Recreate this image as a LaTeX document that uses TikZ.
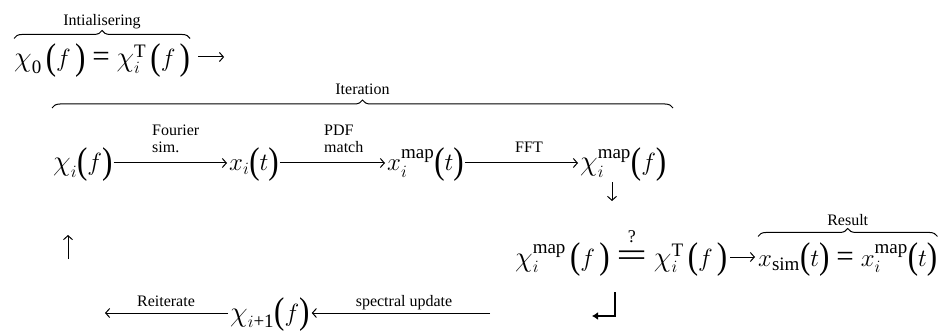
\documentclass[tikz,border=0pt]{standalone}
\usepackage{fontspec}
\setmainfont{Liberation Serif}
\usepackage{amsmath}
\usetikzlibrary{arrows.meta,decorations.pathreplacing}
\DeclareMathSizes{31}{31}{19}{14}
\newcommand\tx[1]{\text{#1}}
\newcommand\X{\mathord{\text{\scalebox{1.15}{$\chi$}}}}
\newcommand\Lp{\text{\raisebox{-0.08em}{\scalebox{1}[1.2]{(}}}}
\newcommand\Rp{\text{\raisebox{-0.08em}{\scalebox{1}[1.2]{)}}}}
\newcommand\EQ{\mathrel{\text{=}}}
\newcommand\QEQ{\;\overset{\raisebox{3pt}{\fontsize{18}{18}\selectfont ?}}{\text{\scalebox{1.75}[1.1]{=}}}\;}
\begin{document}
\begin{tikzpicture}[x=1pt,y=-1pt,
  eq/.style={inner sep=0pt, anchor=base west, font=\fontsize{31}{34}\selectfont},
  lbl/.style={inner sep=0pt, font=\fontsize{16}{17}\selectfont},
  arr/.style={line width=1pt, -{Straight Barb[length=4pt,width=9pt]}},
  brace/.style={decorate, decoration={brace, amplitude=8pt}, line width=1pt},
  bentarr/.style={line width=2.2pt, -{Latex[length=6pt,width=8pt]}}]
\useasboundingbox (0,0) rectangle (949,331);
% row 1
\node[eq] (init) at (14,67) {$\X_{\tx{0}}\,\Lp f\,\Rp\EQ\X_{i}^{\tx{T}}\,\Lp f\,\Rp$};
\draw[arr] ([shift={(8,-10)}]init.base east) -- ++(26,0) coordinate (initend);
\draw[brace] ([yshift=5pt]init.north west) -- ([yshift=5pt]init.north east)
  node[lbl, midway, above=9pt] (tinit) {Intialisering};
% row 2
\node[eq] (chi) at (53,171) {$\X_{i}\Lp f\Rp$};
\node[eq] (xi) at (229,171) {$x_{i}\Lp t\Rp$};
\node[eq] (xmap) at (387,171) {$x_{i}^{\tx{map}}\Lp t\Rp$};
\node[eq] (chimap) at (580,171) {$\X_{i}^{\tx{map}}\Lp f\Rp$};
\draw[arr] ([shift={(1,-8)}]chi.base east) -- ([shift={(-2,-8)}]xi.base west);
\draw[arr] ([shift={(1,-8)}]xi.base east) -- ([shift={(-2,-8)}]xmap.base west);
\draw[arr] ([shift={(1,-8)}]xmap.base east) -- ([shift={(-2,-8)}]chimap.base west);
\node[lbl, anchor=south west, align=left] (lfs) at (152,153) {Fourier\\sim.};
\node[lbl, anchor=south west, align=left] (lpdf) at (324,153) {PDF\\match};
\node[lbl, anchor=south west] (lfft) at (515,153) {FFT};
\draw[brace] (52,108) -- (673,108) node[lbl, midway, above=13pt] (titer) {Iteration};
\coordinate (down1) at (612,182);
\draw[arr] (down1) -- ++(0,19);
% row 3
\node[eq] (cmp) at (515,266) {$\X_{i}^{\tx{map}}\,\Lp f\,\Rp\QEQ\X_{i}^{\tx{T}}\,\Lp f\,\Rp$};
\node[eq] (res) at (758,266) {$x_{\tx{sim}}\Lp t\Rp\EQ x_{i}^{\tx{map}}\Lp t\Rp$};
\draw[arr] ([shift={(3,-9)}]cmp.base east) -- ([shift={(-3,-9)}]res.base west);
\draw[brace] ([yshift=6pt]res.north west) -- ([yshift=6pt]res.north east)
  node[lbl, midway, above=10pt] (tres) {Result};
\coordinate (up1) at (68,259);
\draw[arr] (up1) -- ++(0,-24);
% row 4
\node[eq] (chinext) at (230,321) {$\X_{i\tx{+1}}\Lp f\Rp$};
\coordinate (reit) at (105,313);
\coordinate (spec) at (490,313);
\draw[arr] (chinext.west |- reit) ++(-2,0) -- (reit);
\draw[arr] (spec) -- ([xshift=2pt]chinext.east |- spec);
\node[lbl, anchor=base] (lreit) at (166,306) {Reiterate};
\node[lbl, anchor=base] (lspec) at (404,306) {spectral update};
\coordinate (ret) at (615,292);
\draw[bentarr] (ret) -- ++(0,24) -- ++(-23,0);
\end{tikzpicture}
\end{document}
